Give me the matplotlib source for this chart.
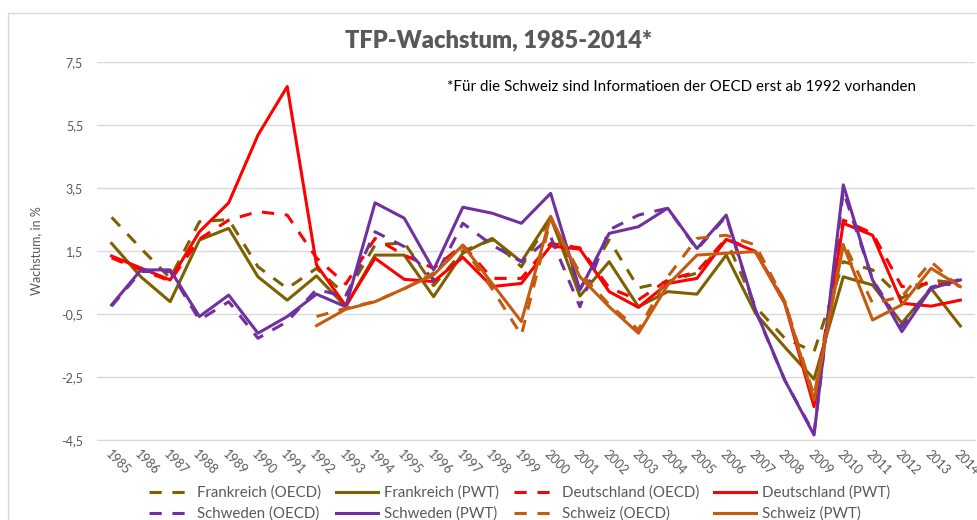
import numpy as np
import matplotlib
matplotlib.use("Agg")
import matplotlib.pyplot as plt
from matplotlib.patches import Rectangle

plt.rcParams['font.family'] = ['Lato', 'DejaVu Sans']

years = [str(y) for y in range(1985, 2015)]
nan = np.nan

# TFP growth in %
frankreich_oecd = [2.57, 1.58, 0.64, 2.43, 2.50, 1.00, 0.31, 0.95, 0.10, 1.69,
                   1.76, 0.40, 1.50, 1.85, 1.00, 2.55, 0.30, 1.85, 0.33, 0.53,
                   0.80, 1.85, -0.27, -1.27, -1.70, 1.16, 0.90, 0.00, 0.58, 0.47]
frankreich_pwt = [1.74, 0.68, -0.11, 1.85, 2.22, 0.68, -0.06, 0.71, -0.27, 1.37,
                  1.37, 0.05, 1.43, 1.90, 1.16, 2.59, 0.07, 1.16, -0.27, 0.21,
                  0.13, 1.37, -0.48, -1.55, -2.57, 0.68, 0.42, -0.79, 0.31, -0.88]
deutschland_oecd = [1.28, 0.90, 0.55, 1.88, 2.48, 2.75, 2.64, 1.28, 0.45, 1.90,
                    1.37, 0.95, 1.69, 0.63, 0.63, 1.74, 1.60, 0.33, -0.05, 0.58,
                    0.84, 1.90, 1.48, -0.10, -3.30, 2.48, 2.06, 0.37, 0.47, 0.42]
deutschland_pwt = [1.34, 0.96, 0.58, 2.11, 3.03, 5.18, 6.72, 1.06, -0.24, 1.27,
                   0.60, 0.53, 1.30, 0.37, 0.47, 1.66, 1.56, 0.21, -0.29, 0.47,
                   0.63, 1.87, 1.48, -0.16, -3.44, 2.38, 2.00, -0.16, -0.25, -0.06]
schweden_oecd = [-0.25, 0.85, 0.85, -0.69, -0.11, -1.27, -0.74, 0.28, 0.05, 2.11,
                 1.64, 0.58, 2.38, 1.69, 1.16, 1.95, -0.27, 2.17, 2.64, 2.86,
                 1.55, 2.60, -0.40, -2.60, -4.30, 3.40, 0.60, -0.90, 0.35, 0.60]
schweden_pwt = [-0.21, 0.90, 0.90, -0.58, 0.10, -1.11, -0.58, 0.13, -0.27, 3.03,
                2.54, 0.90, 2.89, 2.70, 2.38, 3.33, 0.26, 2.06, 2.27, 2.86,
                1.58, 2.64, -0.37, -2.60, -4.34, 3.60, 0.58, -1.06, 0.31, 0.58]
schweiz_oecd = [nan, nan, nan, nan, nan, nan, nan, -0.58, -0.32, -0.10,
                0.30, 0.80, 1.65, 0.30, -1.17, 2.50, 0.80, -0.20, -1.00, 0.68,
                1.90, 2.00, 1.69, -0.10, -3.10, 1.80, -0.16, 0.05, 1.16, 0.33]
schweiz_pwt = [nan, nan, nan, nan, nan, nan, nan, -0.87, -0.35, -0.11,
               0.31, 0.74, 1.69, 0.47, -0.74, 2.59, 0.68, -0.27, -1.11, 0.42,
               1.37, 1.43, 1.48, -0.16, -3.23, 1.69, -0.69, -0.21, 0.95, 0.37]

series = [
    ("Frankreich (OECD)", frankreich_oecd, "#7F6000", True),
    ("Frankreich (PWT)", frankreich_pwt, "#7F6000", False),
    ("Deutschland (OECD)", deutschland_oecd, "#FF0000", True),
    ("Deutschland (PWT)", deutschland_pwt, "#FF0000", False),
    ("Schweden (OECD)", schweden_oecd, "#7030A0", True),
    ("Schweden (PWT)", schweden_pwt, "#7030A0", False),
    ("Schweiz (OECD)", schweiz_oecd, "#C55A11", True),
    ("Schweiz (PWT)", schweiz_pwt, "#C55A11", False),
]

fig = plt.figure(figsize=(9.78, 5.2), dpi=100)
ax = fig.add_axes([97 / 978, 1 - 440 / 520, 878 / 978, 378 / 520])

# light chart border like the Excel chart area
fig.patches.append(Rectangle((8 / 978, -0.1), 1.1, 1 - 13 / 520 + 0.1,
                             transform=fig.transFigure, fill=False,
                             edgecolor="#D9D9D9", linewidth=1))

x = np.arange(len(years))
handles = []
for label, vals, color, dashed in series:
    ln, = ax.plot(x, vals, color=color, lw=2.2, label=label,
                  solid_joinstyle="round")
    if dashed:
        ln.set_dashes([4, 3.5])
    handles.append(ln)

ax.set_xlim(-0.5, len(years) - 0.5)
ax.set_ylim(-4.5, 7.5)
yticks = [-4.5, -2.5, -0.5, 1.5, 3.5, 5.5, 7.5]
ax.set_yticks(yticks)
ax.set_yticklabels([f"{v:.1f}".replace(".", ",") for v in yticks],
                   fontsize=9, color="#595959")
ax.yaxis.grid(True, color="#D9D9D9", lw=1)
ax.set_axisbelow(True)
ax.tick_params(axis="both", length=0, pad=10)
for s in ["top", "right", "left"]:
    ax.spines[s].set_visible(False)
ax.spines["bottom"].set_color("#D9D9D9")

ax.set_xticks(x)
ax.set_xticklabels(years, rotation=-45, ha="left", rotation_mode="anchor",
                   fontsize=9, color="#595959")
ax.tick_params(axis="x", pad=6)

ax.set_ylabel("Wachstum, in %", fontsize=9, color="#595959", labelpad=14)

fig.text(0.510, 1 - 40 / 520, "TFP-Wachstum, 1985-2014*", ha="center",
         va="center", fontsize=17, fontweight="heavy", color="#595959")
fig.text(447 / 978, 1 - 87 / 520,
         "*Für die Schweiz sind Informatioen der OECD erst ab 1992 vorhanden",
         ha="left", va="center", fontsize=10.9, color="black")

order = [0, 4, 1, 5, 2, 6, 3, 7]
fig.legend([handles[i] for i in order], [series[i][0] for i in order],
           ncol=4, loc="center", bbox_to_anchor=(0.531, 1 - 503.5 / 520),
           frameon=False, fontsize=10.8, labelcolor="#595959",
           handlelength=2.8, handletextpad=0.4, columnspacing=1.0,
           labelspacing=0.45)

fig.savefig("out.png", dpi=100)
